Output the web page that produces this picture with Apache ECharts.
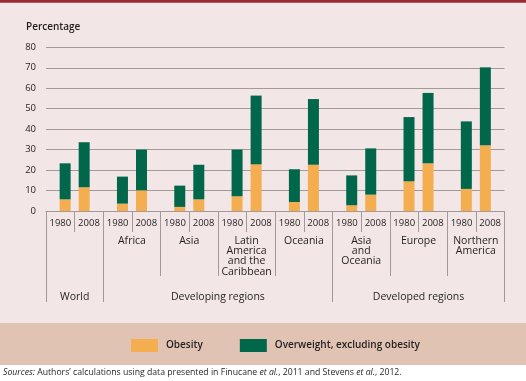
<!DOCTYPE html>
<html><head><meta charset="utf-8">
<script src="https://cdn.jsdelivr.net/npm/echarts@6/dist/echarts.min.js"></script>
<style>html,body{margin:0;padding:0;background:#fff}#c{width:526px;height:381px}</style>
</head><body><div id="c"></div>
<script>
// ---- data ----
const regions = ['World','Africa','Asia','Latin\nAmerica\nand the\nCaribbean','Oceania','Asia\nand\nOceania','Europe','Northern\nAmerica'];
const years = ['1980','2008'];
const groupNames = ['World','Developing regions','Developed regions'];
const groupSpans = [1, 4, 3];
const obesity1980 = [5.7, 3.6, 2.0, 7.2, 4.4, 2.8, 14.5, 10.8];
const overweight1980 = [17.6, 13.2, 10.4, 22.8, 16.0, 14.6, 31.4, 33.0];
const obesity2008 = [11.6, 10.1, 5.7, 22.8, 22.6, 8.0, 23.3, 32.1];
const overweight2008 = [22.0, 19.9, 16.9, 33.6, 32.1, 22.6, 34.4, 38.1];
const yTicks = [0, 10, 20, 30, 40, 50, 60, 70, 80];

// ---- derived axis helpers ----
const FONT = 'Open Sans';
const textCol = '#231f20';
const lineCol = '#a29999';
const yearSlots = [];
regions.forEach(() => years.forEach(y => yearSlots.push(y)));
const nPos = regions.length * 2 + 1; // boundary positions
const posKeys = Array.from({length: nPos}, (_, i) => 'p' + i);
const regionLabelAt = {};
regions.forEach((r, i) => { if (!groupNames.includes(r)) regionLabelAt[2 * i + 1] = r; });
const groupLabelAt = {}, groupBounds = [0];
let start = 0;
groupNames.forEach((g, i) => {
  groupLabelAt[2 * start + groupSpans[i]] = g;
  start += groupSpans[i];
  groupBounds.push(2 * start);
});

const chart = echarts.init(document.getElementById('c'), null, {renderer: 'canvas'});
const barStyle = (c) => ({color: c});
chart.setOption({
  backgroundColor: '#ffffff',
  animation: false,
  graphic: [
    {type: 'rect', z: -10, shape: {x: 0, y: 0, width: 526, height: 323}, style: {fill: '#f2e6e6'}},
    {type: 'rect', z: -10, shape: {x: 0, y: 323, width: 526, height: 42}, style: {fill: '#e1c3b3'}},
    {type: 'rect', z: -10, shape: {x: 0, y: 0, width: 526, height: 2.7}, style: {fill: '#9b2a30'}}
  ],
  title: [
    {text: 'Percentage', left: 26, top: 22, padding: 0,
     textStyle: {fontFamily: FONT, fontSize: 10, fontWeight: 600, color: textCol}},
    {text: '{i|Sources:} Authors\u2019 calculations using data presented in Finucane {i|et al.}, 2011 and Stevens {i|et al.}, 2012.',
     left: 3, top: 368, padding: 0,
     textStyle: {fontFamily: FONT, fontSize: 8.7, fontWeight: 400, color: textCol,
       rich: {i: {fontFamily: FONT, fontSize: 8.7, fontStyle: 'italic', color: textCol}}}}
  ],
  legend: {
    left: 131, top: 339, itemWidth: 27, itemHeight: 13, itemGap: 37, padding: 0,
    icon: 'rect',
    data: ['Obesity', 'Overweight, excluding obesity'],
    textStyle: {fontFamily: FONT, fontSize: 10, fontWeight: 600, color: textCol, padding: [0, 0, 0, 3]}
  },
  grid: {left: 46, right: 21.5, top: 47.3, bottom: 170, containLabel: false, outerBoundsMode: 'none'},
  xAxis: [
    {type: 'category', data: regions, position: 'bottom', offset: 0,
     axisLine: {show: true, lineStyle: {color: lineCol, width: 1}},
     axisTick: {show: false}, axisLabel: {show: false}, splitLine: {show: false}},
    {type: 'category', data: yearSlots.map((y, i) => y + '_' + i), position: 'bottom', offset: 0, boundaryGap: true,
     axisLine: {show: false},
     axisTick: {show: true, length: 21, interval: 0, lineStyle: {color: lineCol, width: 1}},
     axisLabel: {show: true, interval: 0, margin: 7, formatter: (v, i) => yearSlots[i],
       fontFamily: FONT, fontSize: 9.5, color: textCol}},
    {type: 'category', data: posKeys, position: 'bottom', offset: 0, boundaryGap: false,
     axisLine: {show: false},
     axisTick: {show: true, length: 65, interval: (i) => i % 2 === 0, lineStyle: {color: lineCol, width: 1}},
     axisLabel: {show: true, interval: 0, margin: 24.5, lineHeight: 10.3,
       formatter: (v, i) => regionLabelAt[i] || '', fontFamily: FONT, fontSize: 10.5, color: textCol}},
    {type: 'category', data: posKeys, position: 'bottom', offset: 0, boundaryGap: false,
     axisLine: {show: false},
     axisTick: {show: true, length: 91, interval: (i) => groupBounds.includes(i), lineStyle: {color: lineCol, width: 1}},
     axisLabel: {show: true, interval: 0, margin: 81,
       formatter: (v, i) => groupLabelAt[i] || '', fontFamily: FONT, fontSize: 10.5, color: textCol}}
  ],
  yAxis: {
    type: 'value', min: yTicks[0], max: yTicks[yTicks.length - 1], interval: yTicks[1] - yTicks[0],
    axisLine: {show: false}, axisTick: {show: false},
    axisLabel: {margin: 10, fontFamily: FONT, fontSize: 9.5, color: textCol},
    splitLine: {show: true, lineStyle: {color: lineCol, width: 1}}
  },
  series: [
    {name: 'Obesity', type: 'bar', stack: 'y1980', xAxisIndex: 0, data: obesity1980,
     barWidth: 11, barGap: '73%', itemStyle: barStyle('#f5ae4f')},
    {name: 'Overweight, excluding obesity', type: 'bar', stack: 'y1980', xAxisIndex: 0, data: overweight1980,
     barWidth: 11, barGap: '73%', itemStyle: barStyle('#00674a')},
    {name: 'Obesity', type: 'bar', stack: 'y2008', xAxisIndex: 0, data: obesity2008,
     barWidth: 11, barGap: '73%', itemStyle: barStyle('#f5ae4f')},
    {name: 'Overweight, excluding obesity', type: 'bar', stack: 'y2008', xAxisIndex: 0, data: overweight2008,
     barWidth: 11, barGap: '73%', itemStyle: barStyle('#00674a')}
  ]
});
</script></body></html>
